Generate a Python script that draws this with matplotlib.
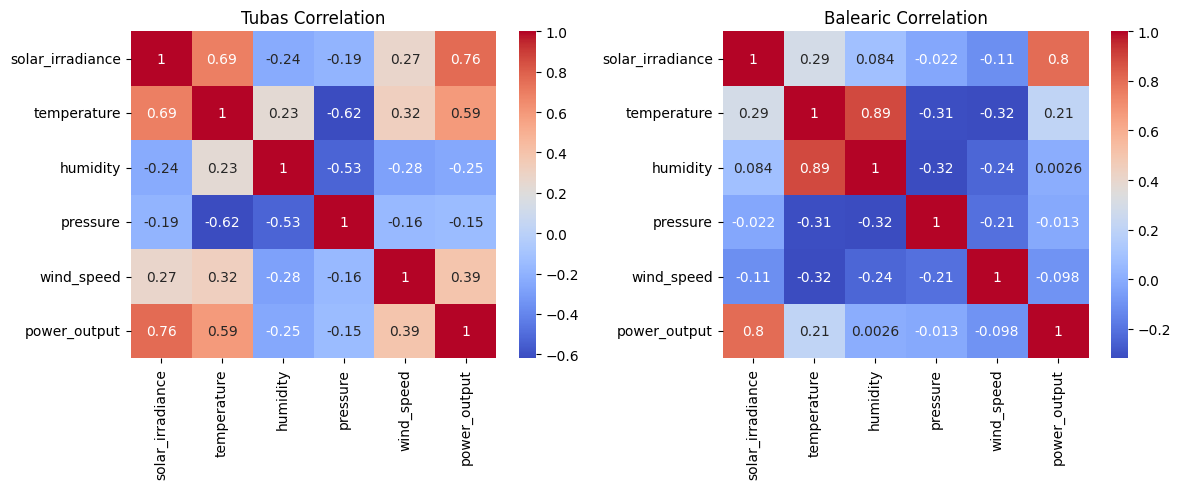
import numpy as np
import matplotlib
matplotlib.use("Agg")
import matplotlib.pyplot as plt
import seaborn as sns

features = ["solar_irradiance", "temperature", "humidity", "pressure", "wind_speed", "power_output"]

tubas_corr = [
    [1, 0.69, -0.24, -0.19, 0.27, 0.76],
    [0.69, 1, 0.23, -0.62, 0.32, 0.59],
    [-0.24, 0.23, 1, -0.53, -0.28, -0.25],
    [-0.19, -0.62, -0.53, 1, -0.16, -0.15],
    [0.27, 0.32, -0.28, -0.16, 1, 0.39],
    [0.76, 0.59, -0.25, -0.15, 0.39, 1],
]

balearic_corr = [
    [1, 0.29, 0.084, -0.022, -0.11, 0.8],
    [0.29, 1, 0.89, -0.31, -0.32, 0.21],
    [0.084, 0.89, 1, -0.32, -0.24, 0.0026],
    [-0.022, -0.31, -0.32, 1, -0.21, -0.013],
    [-0.11, -0.32, -0.24, -0.21, 1, -0.098],
    [0.8, 0.21, 0.0026, -0.013, -0.098, 1],
]

fig, axes = plt.subplots(1, 2, figsize=(12, 5), dpi=100)

sns.heatmap(np.array(tubas_corr), annot=True, cmap="coolwarm",
            xticklabels=features, yticklabels=features, ax=axes[0])
axes[0].set_title("Tubas Correlation")

sns.heatmap(np.array(balearic_corr), annot=True, cmap="coolwarm",
            xticklabels=features, yticklabels=features, ax=axes[1])
axes[1].set_title("Balearic Correlation")

plt.tight_layout()
plt.savefig("out.png", bbox_inches="tight")
